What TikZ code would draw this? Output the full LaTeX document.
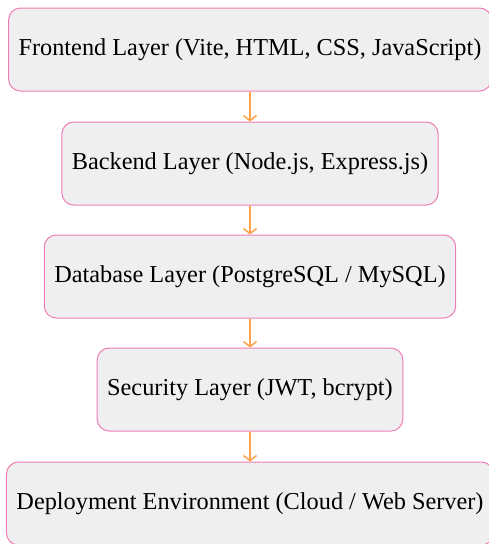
\documentclass[tikz,border=0pt]{standalone}
\usepackage{fontspec}
\setmainfont{Liberation Serif}
\usetikzlibrary{arrows.meta}
\definecolor{boxfill}{HTML}{EFEFEF}
\definecolor{boxline}{HTML}{F07CB4}
\definecolor{arr}{HTML}{FFA24A}
\begin{document}
\begin{tikzpicture}[x=1pt,y=1pt,
  layer/.style={draw=boxline, fill=boxfill, line width=1pt, rounded corners=12pt,
    minimum height=83pt, inner xsep=10pt, font=\fontsize{24.3}{29}\selectfont, text=black},
  flow/.style={draw=arr, line width=1.5pt, -{Straight Barb[length=5pt,width=13pt]}}]
\useasboundingbox (0,0) rectangle (488,-544);
\node[layer] (fe) at (250,-49.5) {Frontend Layer (Vite, HTML, CSS, JavaScript)};
\node[layer] (be) at (250,-163.5) {Backend Layer (Node.js, Express.js)};
\node[layer] (db) at (250,-276.5) {Database Layer (PostgreSQL / MySQL)};
\node[layer] (se) at (250,-389.5) {Security Layer (JWT, bcrypt)};
\node[layer] (de) at (250,-503.5) {Deployment Environment (Cloud / Web Server)};
\draw[flow] (fe) -- (be);
\draw[flow] (be) -- (db);
\draw[flow] (db) -- (se);
\draw[flow] (se) -- (de);
\end{tikzpicture}
\end{document}
